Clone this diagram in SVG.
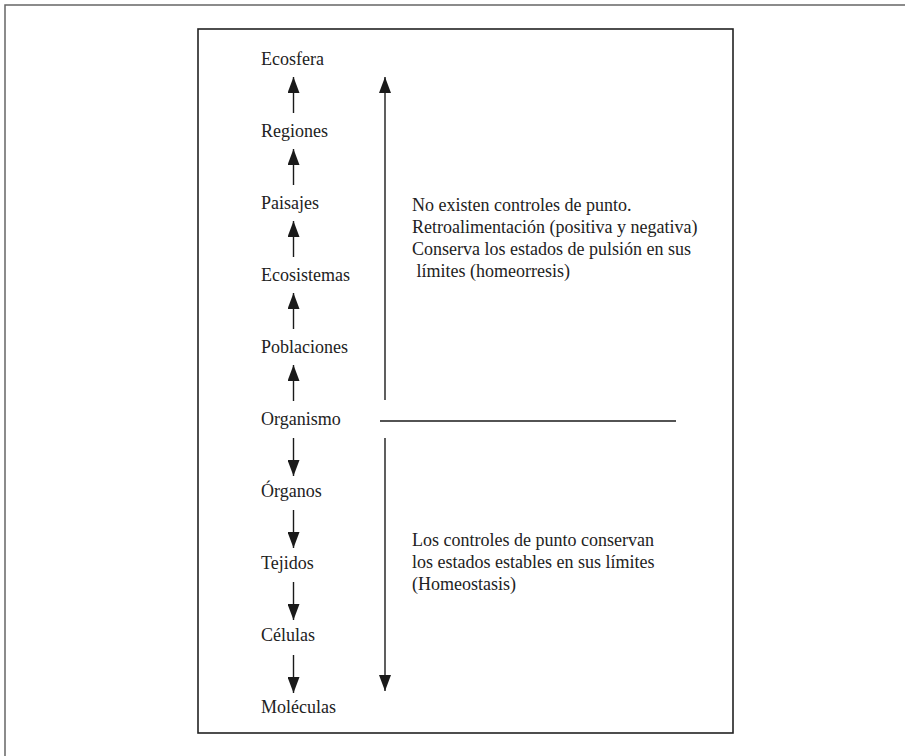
<svg xmlns="http://www.w3.org/2000/svg" width="905" height="756" viewBox="0 0 905 756">
<style>
.lbl{font-family:"Liberation Serif","Times New Roman",serif;font-size:18px;fill:#222}
.txt{font-family:"Liberation Serif","Times New Roman",serif;font-size:18px;fill:#222}
.ln{stroke:#1a1a1a;stroke-width:1.4;fill:none}
.ar{stroke:#1a1a1a;stroke-width:1.4;fill:none;marker-end:url(#ah)}
</style>
<defs>
<marker id="ah" markerUnits="userSpaceOnUse" markerWidth="16" markerHeight="12" refX="16" refY="6" orient="auto">
<path d="M0,0 L16,6 L0,12 z" fill="#1a1a1a"/>
</marker>
</defs>
<rect width="905" height="756" fill="#fff"/>
<g id="frame">
<path d="M5,756 L5,5 L905,5" stroke="#666" stroke-width="1.5" fill="none"/>
<rect x="198" y="29" width="535" height="704" fill="none" stroke="#222" stroke-width="1.6"/>
</g>
<g id="n-ecosfera"><text class="lbl" x="261" y="65">Ecosfera</text></g>
<g id="n-regiones"><text class="lbl" x="261" y="137">Regiones</text></g>
<g id="n-paisajes"><text class="lbl" x="261" y="209">Paisajes</text></g>
<g id="n-ecosistemas"><text class="lbl" x="261" y="281">Ecosistemas</text></g>
<g id="n-poblaciones"><text class="lbl" x="261" y="353">Poblaciones</text></g>
<g id="n-organismo"><text class="lbl" x="261" y="425">Organismo</text></g>
<g id="n-organos"><text class="lbl" x="261" y="497">Órganos</text></g>
<g id="n-tejidos"><text class="lbl" x="261" y="569">Tejidos</text></g>
<g id="n-celulas"><text class="lbl" x="261" y="641">Células</text></g>
<g id="n-moleculas"><text class="lbl" x="261" y="713">Moléculas</text></g>
<g id="t-upper">
<text class="txt" x="412" y="211">No existen controles de punto.</text>
<text class="txt" x="412" y="233">Retroalimentación (positiva y negativa)</text>
<text class="txt" x="412" y="255">Conserva los estados de pulsión en sus</text>
<text class="txt" x="412" y="277" xml:space="preserve"> límites (homeorresis)</text>
</g>
<g id="t-lower">
<text class="txt" x="412" y="546">Los controles de punto conservan</text>
<text class="txt" x="412" y="568">los estados estables en sus límites</text>
<text class="txt" x="412" y="590">(Homeostasis)</text>
</g>
<g id="connectors">
<line class="ar" x1="293.5" y1="113" x2="293.5" y2="77"/>
<line class="ar" x1="293.5" y1="185" x2="293.5" y2="149"/>
<line class="ar" x1="293.5" y1="257" x2="293.5" y2="221"/>
<line class="ar" x1="293.5" y1="329" x2="293.5" y2="293"/>
<line class="ar" x1="293.5" y1="401" x2="293.5" y2="365"/>
<line class="ar" x1="293.5" y1="438" x2="293.5" y2="476"/>
<line class="ar" x1="293.5" y1="510" x2="293.5" y2="548"/>
<line class="ar" x1="293.5" y1="582" x2="293.5" y2="620"/>
<line class="ar" x1="293.5" y1="655" x2="293.5" y2="693"/>
<line class="ar" x1="385" y1="400" x2="385" y2="77"/>
<line class="ar" x1="385" y1="438" x2="385" y2="691"/>
<line class="ln" x1="380" y1="421" x2="676" y2="421"/>
</g>
</svg>
